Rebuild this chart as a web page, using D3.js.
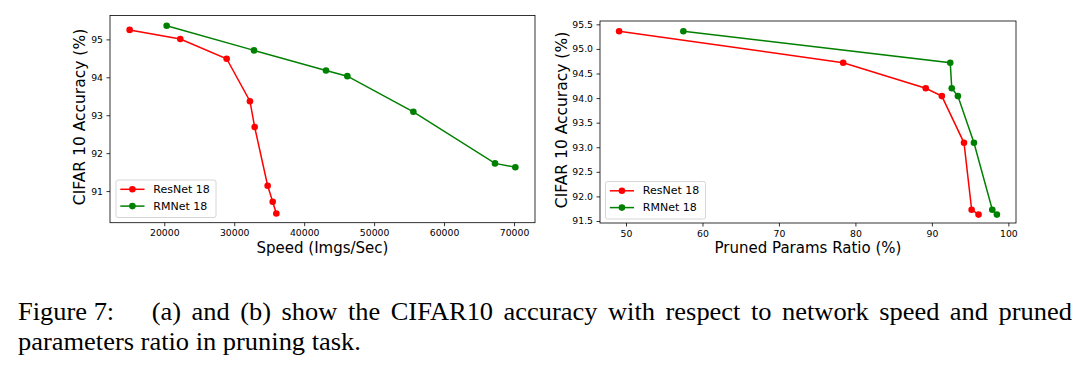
<!DOCTYPE html>
<html><head><meta charset="utf-8">
<script src="https://cdn.jsdelivr.net/npm/d3@7"></script>
<style>body{margin:0;background:#fff}svg{display:block}</style>
</head><body>
<svg id="c" width="1077" height="367"></svg>
<script>
// ---- data ----
const seriesNames = ["ResNet 18", "RMNet 18"];
const seriesColors = ["#ff0000", "#008000"];

// (a) speed vs accuracy
const resnetSpeed = [15050, 22290, 28920, 32250, 32920, 34780, 35500, 36020];
const resnetAccA  = [95.25, 95.01, 94.49, 93.37, 92.69, 91.14, 90.72, 90.41];
const rmnetSpeed  = [20340, 32830, 43120, 46170, 55610, 67280, 70190];
const rmnetAccA   = [95.36, 94.71, 94.18, 94.03, 93.09, 91.73, 91.63];

// (b) pruned params ratio vs accuracy
const resnetRatio = [49.1, 78.4, 89.2, 91.3, 94.2, 95.2, 96.1];
const resnetAccB  = [95.36, 94.72, 94.20, 94.04, 93.09, 91.73, 91.63];
const rmnetRatio  = [57.5, 92.4, 92.6, 93.4, 95.5, 97.9, 98.5];
const rmnetAccB   = [95.36, 94.72, 94.20, 94.04, 93.09, 91.73, 91.63];

const ticksA_x = [20000, 30000, 40000, 50000, 60000, 70000];
const ticksA_y = [91, 92, 93, 94, 95];
const ticksB_x = [50, 60, 70, 80, 90, 100];
const ticksB_y = [91.5, 92.0, 92.5, 93.0, 93.5, 94.0, 94.5, 95.0, 95.5];

const xLabelA = "Speed (Imgs/Sec)";
const xLabelB = "Pruned Params Ratio (%)";
const yLabel = "CIFAR 10 Accuracy (%)";
const caption1a = "Figure 7:";
const caption1b = "(a) and (b) show the CIFAR10 accuracy with respect to network speed and pruned";
const caption2 = "parameters ratio in pruning task.";

const svg = d3.select("#c");
const FONT = "DejaVu Sans, sans-serif";

function panel(cfg) {
  const g = svg.append("g");
  const x = d3.scaleLinear().domain(cfg.xDomain).range([cfg.left, cfg.right]);
  const y = d3.scaleLinear().domain(cfg.yDomain).range([cfg.bottom, cfg.top]);

  const xa = g.append("g").attr("transform", `translate(0,${cfg.bottom})`)
    .call(d3.axisBottom(x).tickValues(cfg.xTicks).tickSize(3.5).tickPadding(3.5).tickFormat(d3.format("d")));
  const ya = g.append("g").attr("transform", `translate(${cfg.left},0)`)
    .call(d3.axisLeft(y).tickValues(cfg.yTicks).tickSize(3.5).tickPadding(3.5).tickFormat(cfg.yFmt));
  [xa, ya].forEach(a => {
    a.select(".domain").remove();
    a.selectAll(".tick line").attr("stroke", "#000").attr("stroke-width", 0.8);
    a.selectAll(".tick text").attr("font-family", FONT).attr("font-size", 9.3).attr("fill", "#000");
  });

  g.append("rect").attr("x", cfg.left).attr("y", cfg.top)
    .attr("width", cfg.right - cfg.left).attr("height", cfg.bottom - cfg.top)
    .attr("fill", "none").attr("stroke", "#000").attr("stroke-width", 0.8);

  const line = d3.line().x(d => x(d[0])).y(d => y(d[1]));
  cfg.series.forEach((s, i) => {
    const pts = d3.zip(s.x, s.y);
    g.append("path").attr("d", line(pts)).attr("fill", "none")
      .attr("stroke", seriesColors[i]).attr("stroke-width", 1.5);
    g.selectAll(null).data(pts).join("circle")
      .attr("cx", d => x(d[0])).attr("cy", d => y(d[1])).attr("r", 3.3)
      .attr("fill", seriesColors[i]);
  });

  g.append("text").attr("x", (cfg.left + cfg.right) / 2 + cfg.xlabDx).attr("y", 253)
    .attr("text-anchor", "middle").attr("font-family", FONT).attr("font-size", 15)
    .attr("fill", "#000").text(cfg.xLabel);
  g.append("text").attr("transform", `translate(${cfg.ylabX},${cfg.ylabY}) rotate(-90)`)
    .attr("text-anchor", "middle").attr("dominant-baseline", "central")
    .attr("font-family", FONT).attr("font-size", 15.5).attr("fill", "#000").text(yLabel);

  // legend
  const L = cfg.legend;
  const lg = g.append("g");
  lg.append("rect").attr("x", L.x).attr("y", L.y).attr("width", L.w).attr("height", L.h)
    .attr("rx", 2).attr("fill", "#fff").attr("fill-opacity", 0.8)
    .attr("stroke", "#cccccc").attr("stroke-width", 0.8);
  seriesNames.forEach((n, i) => {
    const yy = L.y + 9.3 + i * 16.8;
    lg.append("line").attr("x1", L.x + 4.3).attr("x2", L.x + 28.5).attr("y1", yy).attr("y2", yy)
      .attr("stroke", seriesColors[i]).attr("stroke-width", 1.5);
    lg.append("circle").attr("cx", L.x + 16.4).attr("cy", yy).attr("r", 3.3).attr("fill", seriesColors[i]);
    lg.append("text").attr("x", L.x + 37.3).attr("y", yy).attr("dominant-baseline", "central")
      .attr("font-family", FONT).attr("font-size", 11).attr("fill", "#000").text(n);
  });
}

panel({
  left: 110, right: 535, top: 15.5, bottom: 222.7,
  xDomain: [12240, 73000], yDomain: [90.166, 95.63],
  xTicks: ticksA_x, yTicks: ticksA_y, yFmt: d3.format("d"),
  series: [{x: resnetSpeed, y: resnetAccA}, {x: rmnetSpeed, y: rmnetAccA}],
  xLabel: xLabelA, xlabDx: 0, ylabX: 80, ylabY: 117,
  legend: {x: 116, y: 180, w: 100, h: 37.5}
});
panel({
  left: 600, right: 1016, top: 21, bottom: 223,
  xDomain: [46.6, 101.0], yDomain: [91.459, 95.568],
  xTicks: ticksB_x, yTicks: ticksB_y, yFmt: d3.format(".1f"),
  series: [{x: resnetRatio, y: resnetAccB}, {x: rmnetRatio, y: rmnetAccB}],
  xLabel: xLabelB, xlabDx: 0, ylabX: 561.5, ylabY: 120,
  legend: {x: 605.5, y: 181.5, w: 100, h: 37.5}
});

// caption
const CF = "Liberation Serif, Times New Roman, serif";
const FS = 26;
const cap = svg.append("g");
const t2 = cap.append("text").attr("x", 0).attr("y", 350).attr("font-family", CF)
  .attr("font-size", FS).attr("fill", "#000").text(caption2);
const w2 = t2.node().getComputedTextLength();
const s = 343 / w2;
cap.attr("transform", `translate(18,0) scale(${s},1)`);
cap.append("text").attr("x", 0).attr("y", 320).attr("font-family", CF)
  .attr("font-size", FS).attr("fill", "#000").text(caption1a);
const t1 = cap.append("text").attr("x", (151.7 - 18) / s).attr("y", 320).attr("font-family", CF)
  .attr("font-size", FS).attr("fill", "#000").text(caption1b);
const w1 = t1.node().getComputedTextLength();
const nSp = caption1b.split(" ").length - 1;
t1.attr("word-spacing", ((1072 - 151.7) / s - w1) / nSp);
</script>
</body></html>
